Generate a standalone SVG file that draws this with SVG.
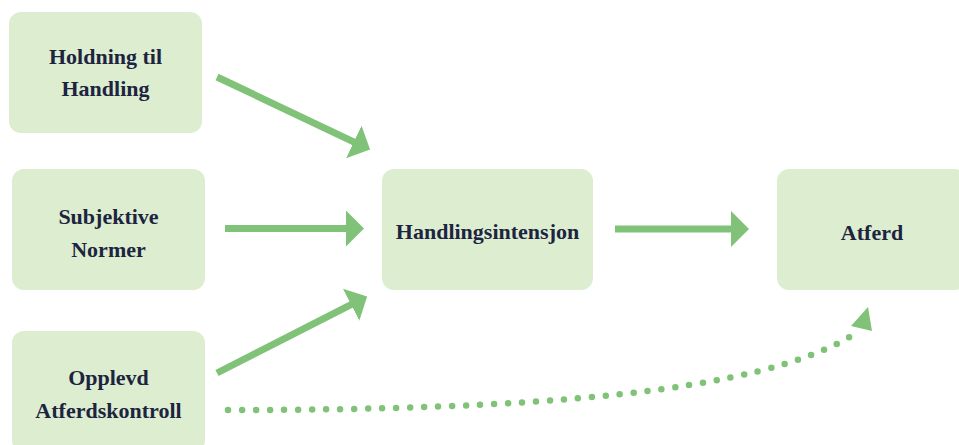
<svg xmlns="http://www.w3.org/2000/svg" width="959" height="445" viewBox="0 0 959 445">
  <style>
    .box { fill: #dcedd0; }
    .lbl { font-family: "Liberation Serif", "Times New Roman", serif; font-weight: bold; font-size: 22px; fill: #1c2440; text-anchor: middle; }
    .arr { stroke: #80c277; stroke-width: 7; fill: none; }
    .dot { stroke: #80c277; stroke-width: 6.5; fill: none; stroke-linecap: round; stroke-dasharray: 0 14; }
  </style>
  <defs>
    <marker id="head" markerUnits="userSpaceOnUse" markerWidth="20" markerHeight="36" viewBox="0 0 20 36" refX="1" refY="18" orient="auto">
      <path d="M0,0 L18,18 L0,36 z" fill="#80c277"/>
    </marker>
  </defs>
  <rect width="959" height="445" fill="#ffffff"/>

  <g id="holdning">
    <rect class="box" x="9" y="12" width="193" height="121" rx="12"/>
    <text class="lbl" x="105.5" y="64">Holdning til</text>
    <text class="lbl" x="105.5" y="96">Handling</text>
  </g>
  <g id="subjektive">
    <rect class="box" x="12" y="169" width="193" height="121" rx="12"/>
    <text class="lbl" x="108.5" y="224">Subjektive</text>
    <text class="lbl" x="108.5" y="257">Normer</text>
  </g>
  <g id="opplevd">
    <rect class="box" x="12" y="331" width="193" height="121" rx="12"/>
    <text class="lbl" x="108.5" y="385">Opplevd</text>
    <text class="lbl" x="108.5" y="418">Atferdskontroll</text>
  </g>
  <g id="handlingsintensjon">
    <rect class="box" x="382" y="169" width="211" height="121" rx="12"/>
    <text class="lbl" x="487.5" y="239">Handlingsintensjon</text>
  </g>
  <g id="atferd">
    <rect class="box" x="777" y="169" width="190" height="121" rx="12"/>
    <text class="lbl" x="872" y="240">Atferd</text>
  </g>

  <g id="connectors">
    <line class="arr" x1="217" y1="77" x2="354.7" y2="142.3" marker-end="url(#head)"/>
    <line class="arr" x1="225" y1="228.5" x2="347" y2="228.5" marker-end="url(#head)"/>
    <line class="arr" x1="217" y1="373" x2="352" y2="304.2" marker-end="url(#head)"/>
    <line class="arr" x1="615" y1="229" x2="732" y2="229" marker-end="url(#head)"/>
    <path class="dot" d="M228,410 C520,410 760,395 856,333"/>
    <polygon points="851,326 868,307 872,331" fill="#80c277"/>
  </g>
</svg>
